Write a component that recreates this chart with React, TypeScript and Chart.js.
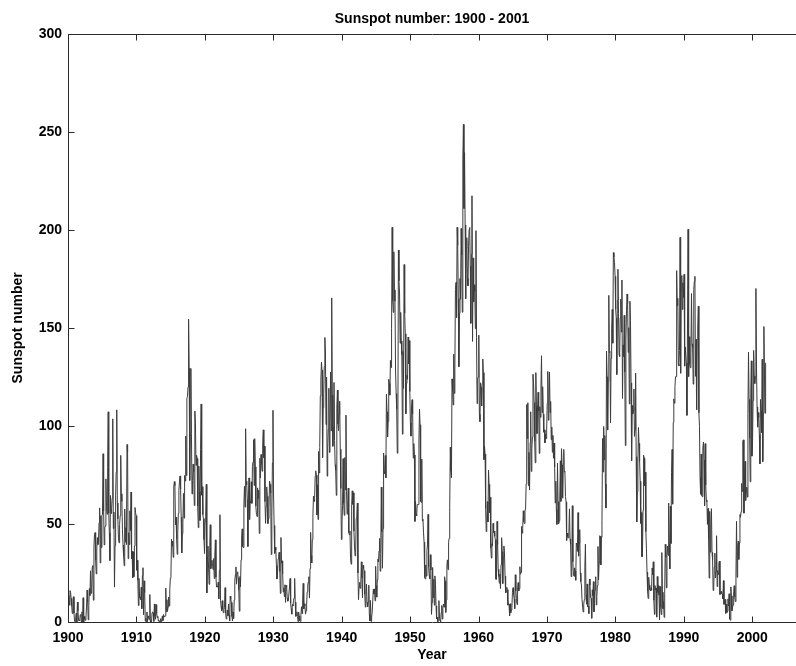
import React, { useEffect, useRef } from "react";
import { Chart, registerables } from "chart.js";

Chart.register(...registerables);

// Monthly sunspot numbers, one row per year, grouped by decade
const START_YEAR = 1900;

const ssn1900s = [
  9.4, 13.6, 8.6, 16.0, 15.2, 12.1, 8.3, 4.3, 8.3, 12.9, 4.5, 0.3,
  0.2, 2.4, 4.5, 0.0, 10.2, 5.8, 0.7, 1.0, 0.6, 3.7, 3.8, 0.0,
  5.2, 0.0, 12.4, 0.0, 2.8, 1.4, 0.9, 2.3, 7.6, 16.3, 10.3, 1.1,
  8.3, 17.0, 13.5, 26.1, 14.6, 16.3, 27.9, 28.8, 11.1, 38.9, 44.5, 45.6,
  31.6, 24.5, 37.2, 43.0, 39.5, 41.9, 50.6, 58.2, 30.1, 54.2, 38.0, 54.6,
  54.8, 85.8, 56.5, 39.3, 48.0, 49.0, 73.0, 58.8, 55.0, 78.7, 107.2, 55.5,
  45.5, 31.3, 64.5, 55.3, 57.7, 63.2, 103.6, 47.7, 56.1, 17.8, 38.9, 64.7,
  76.4, 108.2, 60.7, 52.6, 42.9, 40.4, 49.7, 54.3, 85.0, 65.4, 61.5, 47.3,
  39.2, 33.9, 28.7, 57.6, 40.8, 48.1, 39.5, 90.5, 86.9, 32.3, 45.5, 39.5,
  56.7, 46.6, 66.3, 32.3, 36.0, 22.6, 35.8, 23.1, 38.8, 58.4, 55.8, 54.2,
];

const ssn1910s = [
  26.4, 31.5, 21.4, 8.4, 22.2, 12.3, 12.7, 11.4, 17.7, 6.8, 23.6, 27.7,
  3.7, 21.0, 15.0, 0.4, 1.9, 0.1, 5.1, 0.2, 3.1, 2.3, 1.2, 14.0,
  0.0, 0.7, 0.0, 4.8, 5.2, 4.5, 0.3, 9.2, 3.1, 1.4, 8.9, 4.4,
  2.3, 2.9, 0.5, 0.9, 0.0, 0.0, 1.7, 0.2, 1.2, 3.1, 0.7, 3.8,
  2.8, 2.6, 3.1, 17.3, 5.2, 11.4, 5.4, 7.7, 12.7, 8.2, 16.4, 22.3,
  23.0, 42.3, 38.8, 41.3, 33.0, 68.8, 71.6, 69.6, 49.5, 53.5, 42.5, 34.5,
  45.3, 55.4, 67.0, 71.8, 74.5, 67.7, 53.5, 35.2, 45.1, 50.7, 65.6, 53.0,
  74.7, 71.9, 94.8, 74.7, 114.1, 114.9, 119.8, 154.5, 129.4, 72.2, 96.4, 129.3,
  96.0, 65.3, 72.2, 80.5, 76.7, 59.4, 107.6, 101.7, 79.9, 85.0, 83.4, 59.2,
  48.1, 79.5, 66.5, 51.8, 88.1, 111.2, 64.7, 69.0, 54.7, 52.8, 42.0, 34.9,
];

const ssn1920s = [
  51.1, 53.9, 70.2, 14.8, 33.3, 38.7, 27.5, 19.2, 36.3, 49.6, 27.2, 29.9,
  31.5, 28.3, 26.7, 32.4, 22.2, 33.7, 41.9, 22.8, 17.8, 18.2, 17.8, 20.3,
  11.8, 26.4, 54.7, 11.0, 8.0, 5.8, 10.9, 6.5, 4.7, 6.2, 7.4, 17.5,
  4.5, 1.5, 3.3, 6.1, 3.2, 9.1, 3.5, 0.5, 13.2, 11.6, 10.0, 2.8,
  0.5, 5.1, 1.8, 11.3, 20.8, 24.0, 28.1, 19.3, 25.1, 25.6, 22.5, 16.5,
  5.5, 23.2, 18.0, 31.7, 42.8, 47.5, 38.5, 37.9, 60.2, 69.2, 58.6, 98.6,
  71.8, 70.0, 62.5, 38.5, 64.3, 73.5, 52.3, 61.6, 60.8, 71.5, 60.5, 79.4,
  81.6, 93.0, 69.6, 93.5, 79.1, 59.1, 54.9, 53.8, 68.4, 63.1, 67.2, 45.2,
  83.5, 73.5, 85.4, 80.6, 76.9, 91.4, 98.0, 83.8, 89.7, 61.4, 50.3, 59.0,
  68.9, 64.1, 50.2, 52.8, 58.2, 71.9, 70.2, 65.8, 34.4, 54.0, 81.1, 108.0,
];

const ssn1930s = [
  65.3, 49.2, 35.0, 38.2, 36.8, 28.8, 21.9, 24.9, 32.1, 34.4, 35.6, 25.8,
  14.6, 43.1, 30.0, 31.2, 24.6, 15.3, 17.4, 13.0, 19.0, 10.0, 18.7, 17.8,
  12.1, 10.6, 11.2, 11.2, 17.9, 22.2, 9.6, 6.8, 4.0, 8.9, 8.2, 11.0,
  12.3, 22.2, 10.1, 2.9, 3.2, 5.2, 2.8, 0.2, 5.1, 3.0, 0.6, 0.3,
  3.4, 7.8, 4.3, 11.3, 19.7, 6.7, 9.3, 8.3, 4.0, 5.7, 8.7, 15.4,
  18.9, 20.5, 23.1, 12.2, 27.3, 45.7, 33.9, 30.1, 42.1, 53.2, 64.2, 61.5,
  62.8, 74.3, 77.1, 74.9, 54.6, 70.0, 52.3, 87.0, 76.0, 89.0, 115.4, 123.4,
  132.5, 128.5, 83.9, 109.3, 116.7, 130.3, 145.1, 137.7, 100.7, 124.9, 74.4, 88.8,
  98.4, 119.2, 86.5, 101.0, 127.4, 97.5, 165.3, 115.7, 89.6, 99.1, 122.2, 92.7,
  80.3, 77.4, 64.6, 109.1, 118.3, 101.0, 97.6, 105.8, 112.6, 88.1, 68.1, 42.1,
];

const ssn1940s = [
  50.5, 59.4, 83.3, 60.7, 54.4, 83.9, 67.5, 105.5, 66.5, 55.0, 58.4, 68.3,
  45.6, 44.5, 46.4, 32.8, 29.5, 59.8, 66.9, 60.0, 65.9, 46.3, 38.3, 33.7,
  35.6, 52.8, 54.2, 60.7, 25.0, 11.4, 17.7, 20.2, 17.2, 19.2, 30.7, 22.5,
  12.4, 28.9, 27.4, 26.1, 14.1, 7.6, 13.2, 19.4, 10.0, 7.8, 10.2, 18.8,
  3.7, 0.5, 11.0, 0.3, 2.5, 5.0, 5.0, 16.7, 14.3, 16.9, 10.8, 28.4,
  18.5, 12.7, 21.5, 32.0, 30.6, 36.2, 42.6, 25.9, 34.9, 68.8, 46.0, 27.4,
  47.6, 86.2, 76.6, 75.7, 84.9, 73.5, 116.2, 107.2, 94.4, 102.3, 123.8, 121.7,
  115.7, 133.4, 129.8, 149.8, 201.3, 163.9, 157.9, 188.8, 169.4, 163.6, 128.0, 116.5,
  108.5, 86.1, 94.8, 189.7, 174.0, 167.8, 142.2, 157.9, 143.3, 136.3, 95.8, 138.0,
  119.1, 182.3, 157.5, 147.0, 106.2, 121.7, 125.8, 123.8, 145.3, 131.6, 143.5, 117.6,
];

const ssn1950s = [
  101.6, 94.8, 109.7, 113.4, 106.2, 83.6, 91.0, 85.2, 51.3, 61.4, 54.8, 54.1,
  59.9, 59.9, 59.9, 92.9, 108.5, 100.6, 61.5, 61.0, 83.1, 51.6, 52.4, 45.8,
  40.7, 22.7, 22.0, 29.1, 23.4, 36.4, 39.3, 54.9, 28.2, 23.8, 22.1, 34.3,
  26.5, 3.9, 10.0, 27.8, 12.5, 21.8, 8.6, 23.5, 19.3, 8.2, 1.6, 2.5,
  0.2, 0.5, 10.9, 1.8, 0.8, 0.2, 4.8, 8.4, 1.5, 7.0, 9.2, 7.6,
  23.1, 20.8, 4.9, 11.3, 28.9, 31.7, 26.7, 40.7, 42.7, 58.5, 89.2, 76.9,
  73.6, 124.0, 118.4, 110.7, 136.6, 116.6, 129.1, 169.6, 173.2, 155.3, 201.3, 192.1,
  165.0, 130.2, 157.4, 175.2, 164.6, 200.7, 187.2, 158.0, 235.8, 253.8, 210.9, 239.4,
  202.5, 164.9, 190.7, 196.0, 175.3, 171.5, 191.4, 200.2, 201.2, 181.5, 152.3, 187.6,
  217.4, 143.1, 185.7, 163.3, 172.0, 168.7, 149.6, 199.6, 145.2, 111.4, 124.0, 125.0,
];

const ssn1960s = [
  146.3, 106.0, 102.2, 122.0, 119.6, 110.2, 121.7, 134.1, 127.2, 82.8, 89.6, 85.6,
  57.9, 46.1, 53.0, 61.4, 51.0, 77.4, 70.2, 55.8, 63.6, 37.7, 32.6, 39.9,
  38.7, 50.3, 45.6, 46.4, 43.7, 42.0, 21.8, 21.8, 51.3, 39.5, 26.9, 23.2,
  19.8, 24.4, 17.1, 29.3, 43.0, 35.9, 19.6, 33.2, 38.8, 35.3, 23.4, 14.9,
  15.3, 17.7, 16.5, 8.6, 9.5, 9.1, 3.1, 9.3, 4.7, 6.1, 7.4, 15.1,
  17.5, 14.2, 11.7, 6.8, 24.1, 15.9, 11.9, 8.9, 16.8, 20.1, 15.8, 17.0,
  28.2, 24.4, 25.3, 48.7, 45.3, 47.7, 56.7, 51.2, 50.2, 57.2, 57.2, 70.4,
  110.9, 93.6, 111.8, 69.5, 86.5, 67.3, 91.5, 107.2, 76.8, 88.2, 94.3, 126.4,
  121.8, 111.9, 92.2, 81.2, 127.2, 110.3, 96.1, 109.3, 117.2, 107.7, 86.0, 109.8,
  104.4, 120.5, 135.8, 106.8, 120.0, 106.0, 96.8, 98.0, 91.3, 95.7, 93.5, 97.9,
];

const ssn1970s = [
  111.5, 127.8, 102.9, 109.5, 127.5, 106.8, 112.5, 93.0, 99.5, 86.6, 95.2, 83.5,
  91.3, 79.0, 60.7, 71.8, 57.5, 49.8, 81.0, 61.4, 50.2, 51.7, 63.2, 82.2,
  61.5, 88.4, 80.1, 63.2, 80.5, 88.0, 76.5, 76.8, 64.0, 61.3, 41.6, 45.3,
  43.4, 42.9, 46.0, 57.7, 42.4, 39.5, 23.1, 25.6, 59.3, 30.7, 23.9, 23.3,
  27.6, 26.0, 21.3, 40.3, 39.5, 36.0, 55.8, 33.6, 40.2, 47.1, 25.0, 20.5,
  18.9, 11.5, 11.5, 5.1, 9.0, 11.4, 28.2, 39.7, 13.9, 9.1, 19.4, 7.8,
  8.1, 4.3, 21.9, 18.8, 12.4, 12.2, 1.9, 16.4, 13.5, 20.6, 5.2, 15.3,
  16.4, 23.1, 8.7, 12.9, 18.6, 38.5, 21.4, 30.1, 44.0, 43.8, 29.1, 43.2,
  51.9, 93.6, 76.5, 99.7, 82.7, 95.1, 70.4, 58.1, 138.2, 125.1, 97.9, 122.7,
  166.6, 137.5, 138.0, 101.5, 134.4, 149.5, 159.4, 142.2, 188.4, 186.2, 183.3, 176.3,
];

const ssn1980s = [
  159.6, 155.0, 126.2, 164.1, 179.9, 157.3, 136.3, 135.4, 155.0, 164.7, 147.9, 174.4,
  114.0, 141.3, 135.5, 156.4, 127.5, 90.0, 143.8, 158.7, 167.3, 162.4, 137.5, 150.1,
  111.2, 163.6, 153.8, 122.0, 82.2, 110.4, 106.1, 107.6, 118.8, 94.7, 98.1, 127.0,
  84.3, 51.0, 66.5, 80.7, 99.2, 91.1, 82.2, 71.8, 50.3, 55.8, 33.3, 33.4,
  57.0, 85.1, 83.5, 69.4, 76.4, 46.1, 37.4, 25.5, 15.7, 12.0, 22.8, 18.7,
  16.5, 15.9, 17.2, 16.2, 27.5, 24.2, 30.7, 11.1, 3.9, 18.6, 16.2, 17.3,
  2.5, 23.2, 15.1, 18.5, 13.7, 1.1, 18.1, 7.4, 3.8, 35.4, 15.2, 6.8,
  10.4, 2.4, 14.7, 39.6, 33.0, 17.4, 33.9, 38.7, 33.9, 60.6, 39.9, 27.1,
  59.0, 40.0, 76.2, 88.0, 60.1, 101.8, 113.8, 111.6, 120.1, 125.1, 125.1, 179.2,
  161.3, 165.1, 131.4, 130.6, 138.5, 196.2, 126.9, 168.9, 176.7, 159.4, 173.0, 165.5,
];

const ssn1990s = [
  177.3, 130.5, 140.3, 140.3, 132.2, 105.4, 149.4, 200.3, 125.2, 145.5, 131.4, 129.7,
  136.9, 167.5, 141.9, 140.0, 121.3, 169.7, 173.7, 176.3, 125.3, 144.1, 108.2, 144.4,
  150.0, 161.1, 106.7, 99.8, 73.8, 65.2, 85.7, 64.5, 63.9, 88.7, 91.8, 82.6,
  59.3, 91.0, 69.8, 62.2, 61.3, 49.8, 57.9, 42.2, 22.4, 56.4, 35.6, 48.9,
  57.8, 35.5, 31.7, 16.1, 17.8, 28.0, 35.1, 22.5, 25.7, 44.0, 18.0, 26.2,
  24.2, 29.9, 31.1, 14.0, 14.5, 15.6, 14.5, 14.3, 11.8, 21.1, 9.0, 10.0,
  11.5, 4.4, 9.2, 4.8, 5.5, 11.8, 8.2, 14.4, 1.6, 0.9, 17.9, 13.3,
  5.7, 7.6, 8.7, 15.5, 18.5, 12.7, 10.4, 24.4, 51.3, 22.8, 39.0, 41.2,
  31.9, 40.3, 54.8, 53.4, 56.3, 70.7, 66.6, 92.2, 92.9, 55.5, 74.0, 81.9,
  62.0, 66.3, 68.8, 63.7, 106.4, 137.7, 113.5, 93.7, 71.5, 116.7, 133.2, 84.6,
];

const ssn2000s = [
  90.1, 112.9, 138.5, 125.5, 121.6, 124.9, 170.1, 130.5, 109.7, 99.4, 106.8, 104.4,
  95.6, 80.6, 113.5, 107.7, 96.6, 134.0, 81.8, 106.4, 150.7, 125.5, 106.5, 132.2,
];

const X_TICKS = [1900, 1910, 1920, 1930, 1940, 1950, 1960, 1970, 1980, 1990, 2000];
const Y_TICKS = [0, 50, 100, 150, 200, 250, 300];
const X_MIN = 1900;
const X_MAX = 2006.4;
const TITLE = "Sunspot number: 1900 - 2001";
const X_LABEL = "Year";
const Y_LABEL = "Sunspot number";

const FONT_FAMILY = "'Liberation Sans', Arial, Helvetica, sans-serif";

const framePlugin = {
  id: "frame",
  afterDatasetsDraw(chart: any) {
    const { ctx, chartArea, scales } = chart;
    const left = Math.round(chartArea.left) + 0.5;
    const right = Math.round(chartArea.right) + 0.5;
    const top = Math.round(chartArea.top) + 0.5;
    const bottom = Math.round(chartArea.bottom) + 0.5;
    ctx.save();
    ctx.strokeStyle = "#2a2a2a";
    ctx.lineWidth = 1;
    ctx.beginPath();
    ctx.moveTo(right, top);
    ctx.lineTo(left, top);
    ctx.lineTo(left, bottom);
    ctx.lineTo(right, bottom);
    const tl = 6;
    X_TICKS.forEach((v) => {
      const px = Math.round(scales.x.getPixelForValue(v)) + 0.5;
      ctx.moveTo(px, bottom);
      ctx.lineTo(px, bottom - tl);
      ctx.moveTo(px, top);
      ctx.lineTo(px, top + tl);
    });
    Y_TICKS.forEach((v) => {
      const py = Math.round(scales.y.getPixelForValue(v)) + 0.5;
      ctx.moveTo(left, py);
      ctx.lineTo(left + tl, py);
    });
    ctx.stroke();
    ctx.restore();
  },
};

export default function App() {
  const canvasRef = useRef<HTMLCanvasElement | null>(null);

  useEffect(() => {
    const canvas = canvasRef.current;
    if (!canvas) return;
    const all = [
      ...ssn1900s, ...ssn1910s, ...ssn1920s, ...ssn1930s, ...ssn1940s,
      ...ssn1950s, ...ssn1960s, ...ssn1970s, ...ssn1980s, ...ssn1990s, ...ssn2000s,
    ];
    const points = all.map((v, i) => ({ x: START_YEAR + (i + 0.5) / 12, y: v }));

    const chart = new Chart(canvas, {
      type: "line",
      data: {
        datasets: [
          {
            data: points,
            borderColor: "#3c3c3c",
            borderWidth: 1,
            pointRadius: 0,
            tension: 0,
            borderJoinStyle: "bevel",
            fill: false,
          },
        ],
      },
      options: {
        animation: false,
        responsive: false,
        devicePixelRatio: 1,
        layout: { padding: 0 },
        plugins: {
          legend: { display: false },
          tooltip: { enabled: false },
          title: {
            display: true,
            text: TITLE,
            fullSize: false,
            color: "#000",
            font: { family: FONT_FAMILY, size: 14, weight: "bold" },
            padding: { top: 11, bottom: 6 },
          },
        },
        scales: {
          x: {
            type: "linear",
            min: X_MIN,
            max: X_MAX,
            afterBuildTicks: (scale: any) => {
              scale.ticks = X_TICKS.map((v) => ({ value: v }));
            },
            afterFit: (scale: any) => {
              scale.height = 44;
            },
            grid: { display: false, drawTicks: false },
            border: { display: false },
            ticks: {
              color: "#000",
              padding: 8,
              maxRotation: 0,
              autoSkip: false,
              font: { family: FONT_FAMILY, size: 14, weight: "bold" },
              callback: (v: any) => String(v),
            },
            title: {
              display: true,
              text: X_LABEL,
              color: "#000",
              font: { family: FONT_FAMILY, size: 14, weight: "bold" },
              padding: { top: 0, bottom: 2 },
            },
          },
          y: {
            type: "linear",
            min: 0,
            max: 300,
            afterBuildTicks: (scale: any) => {
              scale.ticks = Y_TICKS.map((v) => ({ value: v }));
            },
            afterFit: (scale: any) => {
              scale.width = 68;
            },
            grid: { display: false, drawTicks: false },
            border: { display: false },
            ticks: {
              color: "#000",
              padding: 6,
              autoSkip: false,
              font: { family: FONT_FAMILY, size: 14, weight: "bold" },
              callback: (v: any) => String(v),
            },
            title: {
              display: true,
              text: Y_LABEL,
              color: "#000",
              font: { family: FONT_FAMILY, size: 14, weight: "bold" },
              padding: { top: 10, bottom: 0 },
            },
          },
        },
      },
      plugins: [framePlugin],
    });
    return () => chart.destroy();
  }, []);

  return (
    <div style={{ position: "fixed", left: 0, top: 0, width: 796, height: 666, background: "#fff" }}>
      <canvas ref={canvasRef} width={796} height={666} style={{ display: "block" }} />
    </div>
  );
}
